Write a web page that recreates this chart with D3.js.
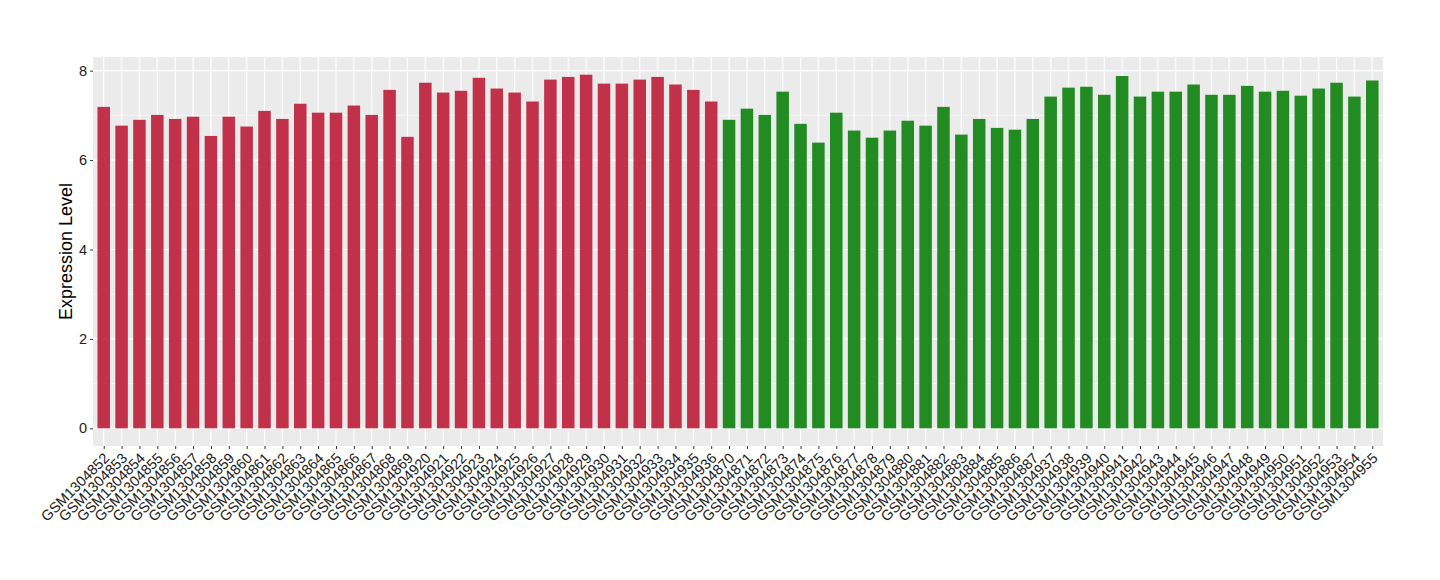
<!DOCTYPE html>
<html>
<head>
<meta charset="utf-8">
<script src="https://cdn.jsdelivr.net/npm/d3@7"></script>
<style>
  html, body { margin: 0; padding: 0; background: #fff; }
  text { font-family: "Liberation Sans", Arial, Helvetica, sans-serif; }
</style>
</head>
<body>
<svg id="chart" width="1440" height="580"></svg>
<script>
const redSamples = ["GSM1304852","GSM1304853","GSM1304854","GSM1304855","GSM1304856","GSM1304857","GSM1304858","GSM1304859","GSM1304860","GSM1304861","GSM1304862","GSM1304863","GSM1304864","GSM1304865","GSM1304866","GSM1304867","GSM1304868","GSM1304869","GSM1304920","GSM1304921","GSM1304922","GSM1304923","GSM1304924","GSM1304925","GSM1304926","GSM1304927","GSM1304928","GSM1304929","GSM1304930","GSM1304931","GSM1304932","GSM1304933","GSM1304934","GSM1304935","GSM1304936"];
const redValues = [7.19,6.77,6.90,7.01,6.92,6.97,6.54,6.97,6.75,7.10,6.92,7.26,7.06,7.06,7.22,7.01,7.57,6.52,7.73,7.51,7.55,7.84,7.60,7.51,7.31,7.80,7.86,7.91,7.71,7.71,7.80,7.86,7.69,7.57,7.31];
const greenSamples = ["GSM1304870","GSM1304871","GSM1304872","GSM1304873","GSM1304874","GSM1304875","GSM1304876","GSM1304877","GSM1304878","GSM1304879","GSM1304880","GSM1304881","GSM1304882","GSM1304883","GSM1304884","GSM1304885","GSM1304886","GSM1304887","GSM1304937","GSM1304938","GSM1304939","GSM1304940","GSM1304941","GSM1304942","GSM1304943","GSM1304944","GSM1304945","GSM1304946","GSM1304947","GSM1304948","GSM1304949","GSM1304950","GSM1304951","GSM1304952","GSM1304953","GSM1304954","GSM1304955"];
const greenValues = [6.90,7.15,7.01,7.53,6.81,6.39,7.06,6.66,6.50,6.66,6.88,6.77,7.19,6.57,6.92,6.72,6.68,6.92,7.42,7.62,7.64,7.46,7.88,7.42,7.53,7.53,7.69,7.46,7.46,7.66,7.53,7.55,7.44,7.60,7.73,7.42,7.78];
const yTicks = [0, 2, 4, 6, 8];
const yMinor = [1, 3, 5, 7];
const yTitle = "Expression Level";
const groupColors = { red: "#C13149", green: "#228B22" };

const data = redSamples.map((s, i) => ({ name: s, value: redValues[i], group: "red" }))
  .concat(greenSamples.map((s, i) => ({ name: s, value: greenValues[i], group: "green" })));

const panel = { left: 93, right: 1383, top: 57, bottom: 446 };
const svg = d3.select("#chart");

const n = data.length;
const step = (panel.right - panel.left) / (n - 1 + 1.2);
const x = d3.scalePoint().domain(data.map(d => d.name))
  .range([panel.left + 0.6 * step, panel.right - 0.6 * step]);
const barW = step * 0.7;

const maxV = d3.max(data, d => d.value);
const pad = maxV * 0.05;
const y = d3.scaleLinear().domain([-pad, maxV + pad]).range([panel.bottom, panel.top]);

// panel background
svg.append("rect").attr("x", panel.left).attr("y", panel.top)
  .attr("width", panel.right - panel.left).attr("height", panel.bottom - panel.top)
  .attr("fill", "#EBEBEB");

// minor gridlines
svg.append("g").selectAll("line").data(yMinor).join("line")
  .attr("x1", panel.left).attr("x2", panel.right)
  .attr("y1", d => y(d)).attr("y2", d => y(d))
  .attr("stroke", "#fff").attr("stroke-width", 0.6);
// major gridlines
svg.append("g").selectAll("line").data(yTicks).join("line")
  .attr("x1", panel.left).attr("x2", panel.right)
  .attr("y1", d => y(d)).attr("y2", d => y(d))
  .attr("stroke", "#fff").attr("stroke-width", 1.2);
svg.append("g").selectAll("line").data(data).join("line")
  .attr("x1", d => x(d.name)).attr("x2", d => x(d.name))
  .attr("y1", panel.top).attr("y2", panel.bottom)
  .attr("stroke", "#fff").attr("stroke-width", 1.2);

// bars
svg.append("g").selectAll("rect").data(data).join("rect")
  .attr("x", d => x(d.name) - barW / 2)
  .attr("width", barW)
  .attr("y", d => y(d.value))
  .attr("height", d => y(0) - y(d.value))
  .attr("fill", d => groupColors[d.group]);

// y axis
const yAxis = svg.append("g").attr("transform", `translate(${panel.left},0)`)
  .call(d3.axisLeft(y).tickValues(yTicks).tickSize(3).tickPadding(3).tickFormat(d3.format("d")));
yAxis.select(".domain").remove();
yAxis.selectAll(".tick line").attr("stroke", "#333");
yAxis.selectAll(".tick text").attr("fill", "#222").style("font-size", "14.5px")
  .style("font-family", "'Liberation Sans', Arial, sans-serif");

// x axis
const xAxis = svg.append("g").attr("transform", `translate(0,${panel.bottom})`)
  .call(d3.axisBottom(x).tickSize(3).tickFormat(d => d));
xAxis.select(".domain").remove();
xAxis.selectAll(".tick line").attr("stroke", "#333");
xAxis.selectAll(".tick text")
  .attr("y", 0).attr("dy", 0)
  .attr("transform", "translate(6,13) rotate(-45)")
  .attr("text-anchor", "end")
  .attr("fill", "#222")
  .style("font-size", "14.5px")
  .style("font-family", "'Liberation Sans', Arial, sans-serif");

// y title
svg.append("text")
  .attr("transform", `translate(72,${(panel.top + panel.bottom) / 2}) rotate(-90)`)
  .attr("text-anchor", "middle")
  .style("font-size", "18px")
  .attr("fill", "#000")
  .text(yTitle);
</script>
</body>
</html>
